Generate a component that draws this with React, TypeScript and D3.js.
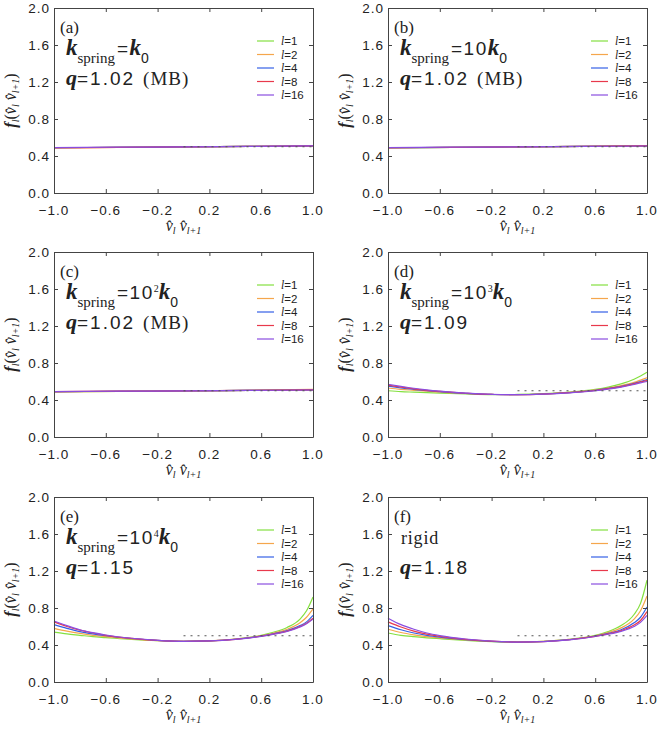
import React, { useEffect, useRef } from "react";
import * as d3 from "d3";

// sample positions along v_l . v_{l+1}
const xFlat = [-1, -0.5, 0, 0.5, 1];
const xCurve = [-1, -0.9, -0.8, -0.7, -0.6, -0.4, -0.2, 0, 0.2, 0.4, 0.6, 0.7, 0.8, 0.9, 0.95, 1];

const lengths = ["1", "2", "4", "8", "16"];
const colors = ["#84e040", "#f5a64c", "#3560e6", "#e8394c", "#8a4de0"];

const xTicks = [-1.0, -0.6, -0.2, 0.2, 0.6, 1.0];
const yTicks = [0.0, 0.4, 0.8, 1.2, 1.6, 2.0];

// panels (a)-(c): MB-like, essentially flat
const flatA = [
  [0.49, 0.494, 0.498, 0.503, 0.508],
  [0.485, 0.493, 0.498, 0.503, 0.509],
  [0.49, 0.494, 0.499, 0.504, 0.51],
  [0.489, 0.494, 0.498, 0.503, 0.509],
  [0.49, 0.495, 0.499, 0.504, 0.51],
];
const flatB = [
  [0.488, 0.493, 0.498, 0.503, 0.509],
  [0.484, 0.493, 0.498, 0.505, 0.512],
  [0.489, 0.494, 0.498, 0.503, 0.51],
  [0.49, 0.494, 0.499, 0.504, 0.51],
  [0.49, 0.495, 0.499, 0.503, 0.508],
];
const flatC = [
  [0.488, 0.493, 0.498, 0.504, 0.512],
  [0.487, 0.493, 0.499, 0.505, 0.515],
  [0.49, 0.494, 0.498, 0.503, 0.51],
  [0.49, 0.495, 0.499, 0.503, 0.509],
  [0.491, 0.495, 0.499, 0.503, 0.508],
];

// panel (d): k = 10^3 k0, q = 1.09
const curveD = [
  [0.5, 0.49, 0.485, 0.48, 0.475, 0.465, 0.458, 0.46, 0.468, 0.485, 0.515, 0.54, 0.575, 0.625, 0.66, 0.7],
  [0.53, 0.515, 0.505, 0.495, 0.485, 0.47, 0.46, 0.458, 0.465, 0.482, 0.51, 0.53, 0.555, 0.59, 0.615, 0.64],
  [0.55, 0.53, 0.515, 0.5, 0.49, 0.472, 0.46, 0.458, 0.465, 0.48, 0.505, 0.525, 0.548, 0.58, 0.6, 0.62],
  [0.56, 0.54, 0.52, 0.505, 0.493, 0.473, 0.46, 0.458, 0.464, 0.479, 0.503, 0.522, 0.545, 0.575, 0.595, 0.61],
  [0.57, 0.548, 0.527, 0.51, 0.496, 0.475, 0.461, 0.458, 0.464, 0.478, 0.5, 0.518, 0.54, 0.568, 0.585, 0.6],
];
// panel (e): k = 10^4 k0, q = 1.15
const curveE = [
  [0.54, 0.52, 0.505, 0.49, 0.48, 0.46, 0.447, 0.44, 0.445, 0.465, 0.505, 0.54, 0.59, 0.68, 0.77, 0.92],
  [0.58, 0.55, 0.525, 0.505, 0.49, 0.465, 0.448, 0.44, 0.445, 0.463, 0.5, 0.53, 0.57, 0.64, 0.7, 0.79],
  [0.62, 0.58, 0.545, 0.52, 0.5, 0.47, 0.45, 0.44, 0.444, 0.462, 0.497, 0.523, 0.556, 0.61, 0.65, 0.72],
  [0.65, 0.6, 0.56, 0.53, 0.505, 0.472, 0.45, 0.44, 0.444, 0.461, 0.495, 0.52, 0.55, 0.6, 0.635, 0.69],
  [0.66, 0.61, 0.565, 0.533, 0.508, 0.473, 0.451, 0.44, 0.444, 0.46, 0.493, 0.517, 0.546, 0.595, 0.63, 0.68],
];
// panel (f): rigid, q = 1.18
const curveF = [
  [0.53, 0.505, 0.49, 0.478, 0.468, 0.45, 0.437, 0.432, 0.44, 0.462, 0.505, 0.545, 0.61, 0.73, 0.85, 1.1],
  [0.57, 0.535, 0.51, 0.49, 0.476, 0.454, 0.438, 0.432, 0.439, 0.46, 0.5, 0.535, 0.585, 0.68, 0.77, 0.93],
  [0.61, 0.565, 0.53, 0.505, 0.486, 0.458, 0.44, 0.432, 0.438, 0.458, 0.497, 0.526, 0.565, 0.64, 0.7, 0.81],
  [0.65, 0.595, 0.55, 0.518, 0.494, 0.461, 0.441, 0.432, 0.437, 0.457, 0.494, 0.52, 0.555, 0.615, 0.665, 0.76],
  [0.69, 0.62, 0.57, 0.53, 0.502, 0.465, 0.443, 0.432, 0.437, 0.456, 0.492, 0.516, 0.548, 0.6, 0.645, 0.72],
];

const mbLevel = 0.5;

type Panel = {
  tag: string;
  xs: number[];
  ys: number[][];
  spring: string | null; // null -> "rigid"
  power: string;
  q: string;
  mb: boolean;
  col: number;
  row: number;
};

const panels: Panel[] = [
  { tag: "(a)", xs: xFlat, ys: flatA, spring: "", power: "", q: "1.02", mb: true, col: 0, row: 0 },
  { tag: "(b)", xs: xFlat, ys: flatB, spring: "10", power: "", q: "1.02", mb: true, col: 1, row: 0 },
  { tag: "(c)", xs: xFlat, ys: flatC, spring: "10", power: "2", q: "1.02", mb: true, col: 0, row: 1 },
  { tag: "(d)", xs: xCurve, ys: curveD, spring: "10", power: "3", q: "1.09", mb: false, col: 1, row: 1 },
  { tag: "(e)", xs: xCurve, ys: curveE, spring: "10", power: "4", q: "1.15", mb: false, col: 0, row: 2 },
  { tag: "(f)", xs: xCurve, ys: curveF, spring: null, power: "", q: "1.18", mb: false, col: 1, row: 2 },
];

const App = () => {
  const svgRef = useRef<SVGSVGElement>(null);

  useEffect(() => {
    const W = 661, H = 737;
    const lefts = [54, 388];
    const tops = [8, 252, 497];
    const pw = 259, ph = 185;
    const axisColor = "#444";
    const serif = "'Liberation Serif', 'DejaVu Serif', serif";
    const sans = "'Liberation Sans', 'DejaVu Sans', sans-serif";

    const svg = d3.select(svgRef.current).attr("width", W).attr("height", H);
    svg.selectAll("*").remove();
    svg.append("rect").attr("width", W).attr("height", H).attr("fill", "#fff");

    panels.forEach((p) => {
      const x0 = lefts[p.col];
      const y0 = tops[p.row];
      const x = d3.scaleLinear().domain([-1, 1]).range([x0, x0 + pw]);
      const y = d3.scaleLinear().domain([0, 2]).range([y0 + ph, y0]);
      const g = svg.append("g");

      // curves
      p.ys.forEach((vals, i) => {
        const pts = p.xs.map((v, j) => [v, vals[j]] as [number, number]);
        g.append("path")
          .datum(pts)
          .attr("fill", "none")
          .attr("stroke", colors[i])
          .attr("stroke-width", 1.2)
          .attr("d", d3.line<[number, number]>()
            .curve(d3.curveMonotoneX)
            .x(d => x(d[0]))
            .y(d => y(d[1])));
      });

      // MB reference
      g.append("line")
        .attr("x1", x(0)).attr("x2", x(1))
        .attr("y1", y(mbLevel)).attr("y2", y(mbLevel))
        .attr("stroke", "#555").attr("stroke-width", 1)
        .attr("stroke-dasharray", "2,5");

      // frame with inward ticks on all sides
      const bottom = g.append("g").attr("transform", `translate(0,${y0 + ph})`)
        .call(d3.axisBottom(x).tickValues(xTicks).tickSizeInner(-4).tickSizeOuter(0).tickFormat(() => ""));
      const top = g.append("g").attr("transform", `translate(0,${y0})`)
        .call(d3.axisTop(x).tickValues(xTicks).tickSizeInner(-4).tickSizeOuter(0).tickFormat(() => ""));
      const left = g.append("g").attr("transform", `translate(${x0},0)`)
        .call(d3.axisLeft(y).tickValues(yTicks).tickSizeInner(-4).tickSizeOuter(0).tickFormat(() => ""));
      const right = g.append("g").attr("transform", `translate(${x0 + pw},0)`)
        .call(d3.axisRight(y).tickValues(yTicks).tickSizeInner(-4).tickSizeOuter(0).tickFormat(() => ""));
      [bottom, top, left, right].forEach(a => {
        a.selectAll("path,line").attr("stroke", axisColor);
      });

      // tick labels
      g.selectAll(".xl").data(xTicks).enter().append("text")
        .attr("x", d => x(d)).attr("y", y0 + ph + 22)
        .attr("text-anchor", "middle")
        .attr("font-family", sans).attr("font-size", 13.5)
        .attr("letter-spacing", 1)
        .attr("fill", "#222")
        .text(d => d3.format(".1f")(d).replace("-", "\u2212"));
      g.selectAll(".yl").data(yTicks).enter().append("text")
        .attr("x", x0 - 4).attr("y", d => y(d) + 5)
        .attr("text-anchor", "end")
        .attr("font-family", sans).attr("font-size", 13.5)
        .attr("letter-spacing", 1)
        .attr("fill", "#222")
        .text(d => d3.format(".1f")(d));

      // axis titles
      const xt = g.append("text")
        .attr("x", x0 + pw / 2).attr("y", y0 + ph + 38)
        .attr("text-anchor", "middle")
        .attr("font-family", serif).attr("font-size", 16).attr("font-style", "italic")
        .attr("fill", "#222");
      xt.append("tspan").text("v\u0302");
      xt.append("tspan").attr("font-size", 10).attr("dy", 3).text("l");
      xt.append("tspan").attr("dy", -3).text(" v\u0302");
      xt.append("tspan").attr("font-size", 10).attr("dy", 3).text("l+1");

      const yt = g.append("text")
        .attr("transform", `translate(${x0 - 38},${y0 + ph / 2}) rotate(-90)`)
        .attr("text-anchor", "middle")
        .attr("font-family", serif).attr("font-size", 16).attr("font-style", "italic")
        .attr("fill", "#222");
      yt.append("tspan").attr("font-weight", "bold").text("f");
      yt.append("tspan").attr("font-size", 10).attr("dy", 3).text("l");
      yt.append("tspan").attr("dy", -3).attr("font-style", "normal").text("(");
      yt.append("tspan").text("v\u0302");
      yt.append("tspan").attr("font-size", 10).attr("dy", 3).text("l");
      yt.append("tspan").attr("dy", -3).text(" v\u0302");
      yt.append("tspan").attr("font-size", 10).attr("dy", 3).text("l+1");
      yt.append("tspan").attr("dy", -3).attr("font-style", "normal").text(")");

      // panel annotations
      g.append("text")
        .attr("x", x0 + 6).attr("y", y0 + 25)
        .attr("font-family", serif).attr("font-size", 17).attr("fill", "#222")
        .text(p.tag);

      if (p.spring === null) {
        g.append("text")
          .attr("x", x0 + 13).attr("y", y0 + 47)
          .attr("font-family", serif).attr("font-size", 18).attr("fill", "#222")
          .attr("letter-spacing", 0.8)
          .text("rigid");
      } else {
        const t = g.append("text")
          .attr("x", x0 + 12).attr("y", y0 + 47)
          .attr("font-family", serif).attr("font-size", 19).attr("fill", "#222");
        t.append("tspan").attr("font-weight", "bold").attr("font-style", "italic").attr("font-size", 23).text("k");
        t.append("tspan").attr("font-size", 15).attr("dy", 8).attr("dx", 0).text("spring");
        t.append("tspan").attr("font-family", sans).attr("letter-spacing", 1.5).attr("dy", -8).attr("dx", 2).text("=" + p.spring);
        if (p.power) t.append("tspan").attr("font-size", 10).attr("dy", -7).text(p.power);
        t.append("tspan").attr("font-weight", "bold").attr("font-style", "italic").attr("font-size", 23)
          .attr("dy", p.power ? 7 : 0).text("k");
        t.append("tspan").attr("font-family", sans).attr("font-size", 14).attr("dy", 8).text("0");
      }

      const qt = g.append("text")
        .attr("x", x0 + 12).attr("y", y0 + 77)
        .attr("font-size", 19).attr("fill", "#222");
      qt.append("tspan").attr("font-family", serif).attr("font-weight", "bold").attr("font-style", "italic").attr("font-size", 22).text("q");
      qt.append("tspan").attr("font-family", sans).attr("letter-spacing", 2).text("=" + p.q);
      if (p.mb) qt.append("tspan").attr("font-family", serif).attr("letter-spacing", 1).attr("dx", 8).text("(MB)");

      // legend
      lengths.forEach((l, i) => {
        const ly = y0 + 33 + i * 13.5;
        g.append("line")
          .attr("x1", x0 + pw - 56).attr("x2", x0 + pw - 39)
          .attr("y1", ly).attr("y2", ly)
          .attr("stroke", colors[i]).attr("stroke-width", 1.2);
        const lt = g.append("text")
          .attr("x", x0 + pw - 32).attr("y", ly + 4)
          .attr("font-family", serif).attr("font-size", 11.5).attr("fill", "#222");
        lt.append("tspan").attr("font-style", "italic").text("l");
        lt.append("tspan").attr("font-family", sans).text("=" + l);
      });
    });
  }, []);

  return <svg ref={svgRef} style={{ display: "block", position: "absolute", left: 0, top: 0 }}></svg>;
};

export default App;
